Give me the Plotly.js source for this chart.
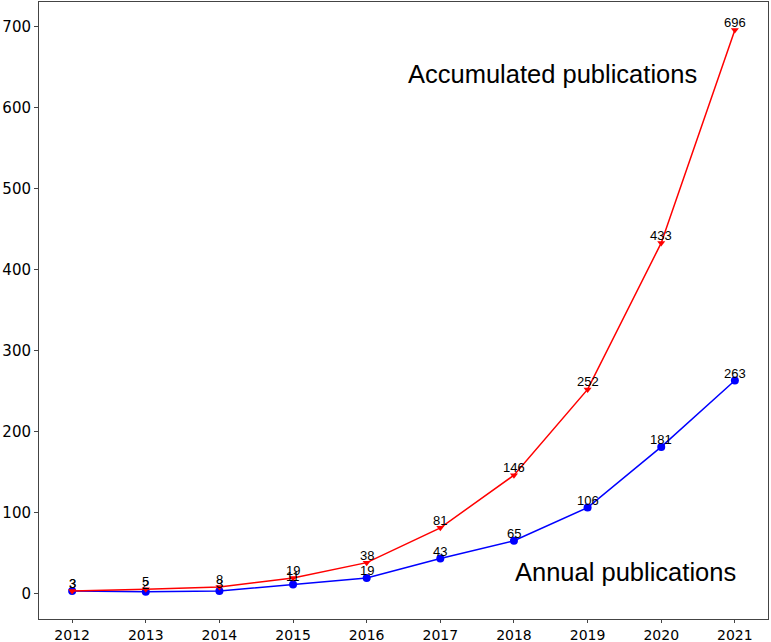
<!DOCTYPE html>
<html>
<head>
<meta charset="utf-8">
<script src="https://cdn.plot.ly/plotly-3.0.1.min.js"></script>
<style>html,body{margin:0;padding:0;background:#fff;}#chart{width:771px;height:642px;}</style>
</head>
<body>
<div id="chart"></div>
<script>
const years = [2012, 2013, 2014, 2015, 2016, 2017, 2018, 2019, 2020, 2021];
const accumulated = [3, 5, 8, 19, 38, 81, 146, 252, 433, 696];
const annual = [3, 2, 3, 11, 19, 43, 65, 106, 181, 263];
const yTicks = [0, 100, 200, 300, 400, 500, 600, 700];

const traces = [
  {
    x: years, y: annual, type: 'scatter', mode: 'lines+markers',
    line: {color: '#0000ff', width: 1.5},
    marker: {symbol: 'circle', size: 8, color: '#0000ff'},
    cliponaxis: false, showlegend: false
  },
  {
    x: years, y: accumulated, type: 'scatter', mode: 'lines+markers',
    line: {color: '#ff0000', width: 1.5},
    marker: {symbol: 'triangle-down', size: 7, color: '#ff0000'},
    cliponaxis: false, showlegend: false
  }
];

function labels(ys) {
  return years.map((yr, i) => ({
    x: yr, y: ys[i], xref: 'x', yref: 'y', text: String(ys[i]), showarrow: false,
    xanchor: 'center', yanchor: 'bottom', yshift: -2,
    font: {family: 'Liberation Sans', size: 13, color: '#000'}
  }));
}

const layout = {
  width: 771, height: 642,
  margin: {l: 39, r: 3, t: 2, b: 23},
  paper_bgcolor: '#fff', plot_bgcolor: '#fff',
  font: {family: 'DejaVu Sans', size: 14, color: '#000'},
  xaxis: {
    range: [2011.55, 2021.45], tickvals: years, ticktext: years.map(String),
    showgrid: false, zeroline: false, showline: true, mirror: true,
    linecolor: '#444', linewidth: 1, ticks: 'outside', ticklen: 3, tickcolor: '#444',
    tickfont: {size: 14}
  },
  yaxis: {
    range: [-31.65, 730.65], tickvals: yTicks,
    showgrid: false, zeroline: false, showline: true, mirror: true,
    linecolor: '#444', linewidth: 1, ticks: 'outside', ticklen: 4, tickcolor: '#444',
    tickfont: {size: 15}
  },
  annotations: labels(annual).concat(labels(accumulated)).concat([
    {x: 2018.52, y: 642, xref: 'x', yref: 'y', text: 'Accumulated publications', showarrow: false,
     font: {family: 'Liberation Sans', size: 25.5, color: '#000'}},
    {x: 2019.51, y: 26, xref: 'x', yref: 'y', text: 'Annual publications', showarrow: false,
     font: {family: 'Liberation Sans', size: 25.5, color: '#000'}}
  ])
};

Plotly.newPlot('chart', traces, layout, {displayModeBar: false, staticPlot: true});
</script>
</body>
</html>
